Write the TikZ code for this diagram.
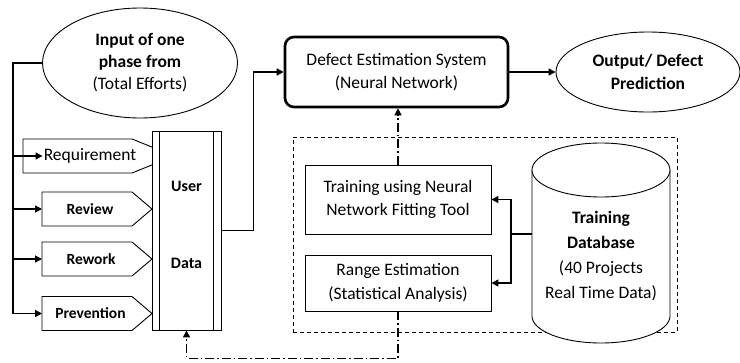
\documentclass[tikz,border=0pt]{standalone}
\usepackage{fontspec}
\setmainfont{Carlito}
\usetikzlibrary{arrows.meta,shapes.geometric}
\newcommand{\busx}{13}
\newcommand{\tipx}{152}
\newcommand{\shoulderx}{132}
\newcommand{\taghalf}{17}
% pentagon tag: left x, centre y, name of its inlet
\newcommand{\tagshape}[3]{%
  \draw[fill=white,line width=0.9pt] (#1,#2-\taghalf) -- (\shoulderx,#2-\taghalf) -- (\tipx,#2)
    -- (\shoulderx,#2+\taghalf) -- (#1,#2+\taghalf) -- cycle;
  \coordinate (#3) at (#1,#2);}
\tikzset{
  txt/.style={font=\fontsize{17.5}{23}\selectfont,align=center,inner sep=2pt},
  tagtxt/.style={font=\fontsize{15.5}{19}\selectfont\bfseries,inner sep=1pt},
  conn/.style={line width=1.3pt,-{Triangle[length=7pt,width=7pt]}},
  trainlink/.style={line width=1.3pt,dash pattern=on 9pt off 3pt on 1.5pt off 3pt,
    -{Triangle[length=7pt,width=7pt]}},
  plainbox/.style={draw,line width=0.9pt,fill=white,txt}
}
\begin{document}
\begin{tikzpicture}[x=1pt,y=-1pt]
\useasboundingbox (0,0) rectangle (740,362);

%% ---------------- inputs ----------------
\node[draw,ellipse,line width=0.9pt,minimum width=195pt,minimum height=110pt,
  txt,font=\fontsize{17.5}{22}\selectfont] (inp) at (140,63)
  {\textbf{Input of one}\\\textbf{phase from}\\(Total Efforts)};
\draw[fill=white,line width=0.9pt] (23,139) -- (\shoulderx,139) -- (174,156) -- (\shoulderx,173)
  -- (23,173) -- cycle;
\tagshape{42}{209}{revin}
\tagshape{42}{259}{rewin}
\tagshape{42}{313.5}{previn}
\node[txt,inner sep=1pt] (req) at (90,156) {Requirement};
\node[tagtxt] (rev) at (90,209) {Review};
\node[tagtxt] (rew) at (91,259) {Rework};
\node[tagtxt] (prev) at (90.5,313.5) {Prevention};

%% ---------------- user data store ----------------
\node[draw,fill=white,line width=0.9pt,minimum width=69pt,minimum height=199pt] (ud) at (186.5,230.5) {};
\draw[line width=0.9pt] ([xshift=8pt]ud.north west) -- ([xshift=8pt]ud.south west);
\draw[line width=0.9pt] ([xshift=-8pt]ud.north east) -- ([xshift=-8pt]ud.south east);
\node[txt,font=\fontsize{16}{20}\selectfont\bfseries] (udtop) at (186.5,186) {User};
\node[txt,font=\fontsize{16}{20}\selectfont\bfseries] (udbot) at (186.5,263) {Data};

%% ---------------- bus to the tags ----------------
\coordinate (busbot) at (\busx,313.5);
\draw[line width=1.6pt] (inp.west) -| (busbot);
\draw[conn] (req -| busbot) -- (req.west);
\draw[conn] (revin -| busbot) -- (revin);
\draw[conn] (rewin -| busbot) -- (rewin);
\draw[conn] (busbot) -- (previn);

%% ---------------- estimation system ----------------
\node[draw,rounded corners=9pt,line width=2.6pt,minimum width=223pt,minimum height=70pt,txt] (defect)
  at (396.5,72) {Defect Estimation System\\(Neural Network)};
\node[draw,ellipse,line width=0.9pt,minimum width=184pt,minimum height=80pt,txt,font=\fontsize{17.5}{23}\selectfont\bfseries]
  (out) at (648,72) {Output/ Defect\\Prediction};
\draw[conn] (ud.east) -- ++(32,0) |- (defect.west);
\draw[conn] (defect.east) -- (out.west);

%% ---------------- training zone ----------------
\node[draw,line width=0.9pt,dash pattern=on 4pt off 3pt,minimum width=384pt,minimum height=195pt] (zone)
  at (485,234.5) {};
\node[plainbox,minimum width=186pt,minimum height=69pt] (train) at (398,199.5)
  {Training using Neural\\Network Fitting Tool};
\node[plainbox,minimum width=186pt,minimum height=56pt,font=\fontsize{17.5}{24}\selectfont] (range) at (398,283)
  {Range Estimation\\(Statistical Analysis)};
\draw[fill=white,line width=0.9pt] (532,170) -- (532,316) arc[start angle=180,end angle=0,x radius=69,y radius=27]
  -- (670,170);
\draw[fill=white,line width=0.9pt] (601,170) ellipse[x radius=69,y radius=27];
\coordinate (dbside) at (532,234);
\node[txt,font=\fontsize{17.5}{25}\selectfont] (db) at (601,256)
  {\textbf{Training}\\\textbf{Database}\\(40 Projects\\Real Time Data)};
\draw[line width=1.3pt] (dbside) -- ++(-21,0) coordinate (fork);
\draw[conn] (fork) |- (train.east);
\draw[conn] (fork) |- (range.east);
\draw[trainlink] (train.north) -- (train.north |- defect.south);
\draw[trainlink] (range.south) -- ++(0,47) -| (ud.south);

\end{tikzpicture}
\end{document}
